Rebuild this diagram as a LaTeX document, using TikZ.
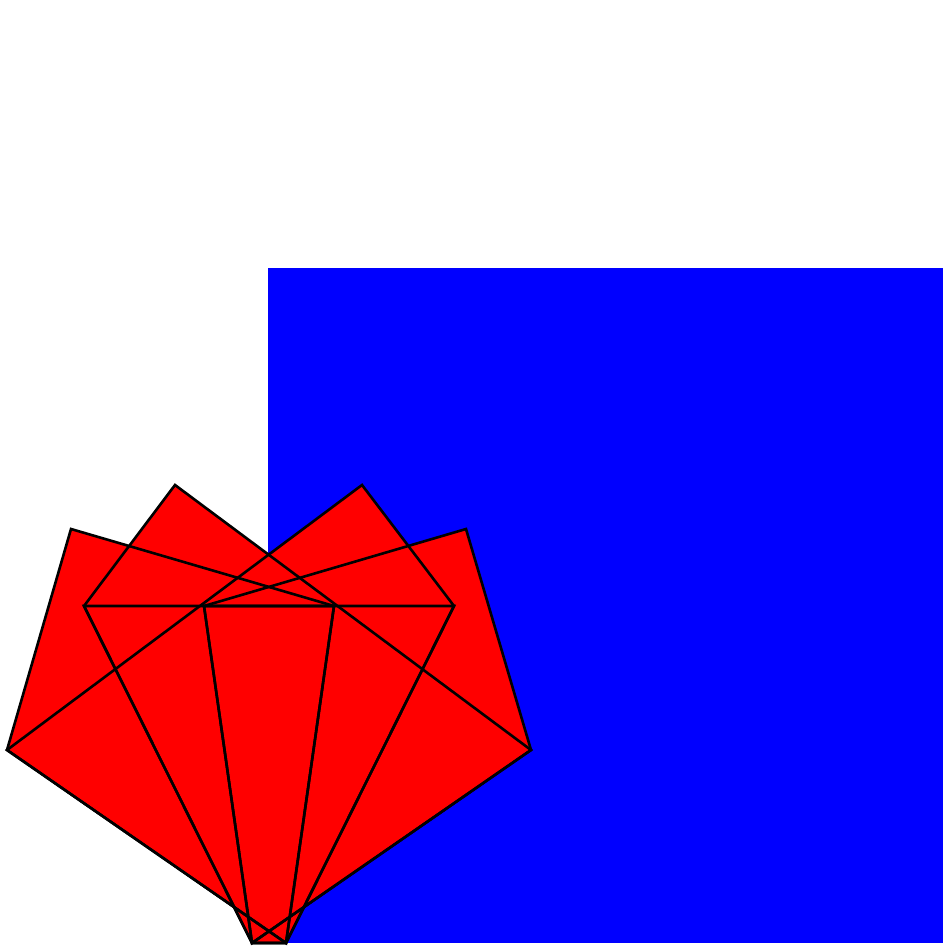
\documentclass[tikz,border=0pt]{standalone}
\begin{document}
\begin{tikzpicture}[x=0.1mm,y=-0.1mm,
  petal/.style={fill=red,draw=none},
  edge/.style={draw=black,line width=0.26mm,line join=miter}]
\useasboundingbox (0,0) rectangle (950,950);
\fill[blue] (268,268) rectangle (943,943);
% vertices
\coordinate (bl) at (252,943);
\coordinate (br) at (286,943);
\coordinate (ci) at (204,606);
\coordinate (cj) at (334,606);
\coordinate (wl) at (84,606);
\coordinate (wr) at (454,606);
\coordinate (tl) at (175,485);
\coordinate (tr) at (362,485);
\coordinate (ul) at (71,529);
\coordinate (ur) at (466,529);
\coordinate (ol) at (7,750);
\coordinate (or) at (531,750);
% fills
\path[petal] (bl) -- (br) -- (cj) -- (ci) -- cycle;
\path[petal] (bl) -- (br) -- (wr) -- (wl) -- cycle;
\path[petal] (bl) -- (wl) -- (tl) -- (or) -- cycle;
\path[petal] (br) -- (wr) -- (tr) -- (ol) -- cycle;
\path[petal] (br) -- (ol) -- (ul) -- (cj) -- cycle;
\path[petal] (bl) -- (or) -- (ur) -- (ci) -- cycle;
% outlines
\draw[edge] (bl) -- (br) -- (cj) -- (ci) -- cycle;
\draw[edge] (bl) -- (br) -- (wr) -- (wl) -- cycle;
\draw[edge] (bl) -- (wl) -- (tl) -- (or) -- cycle;
\draw[edge] (br) -- (wr) -- (tr) -- (ol) -- cycle;
\draw[edge] (br) -- (ol) -- (ul) -- (cj) -- cycle;
\draw[edge] (bl) -- (or) -- (ur) -- (ci) -- cycle;
\end{tikzpicture}
\end{document}
